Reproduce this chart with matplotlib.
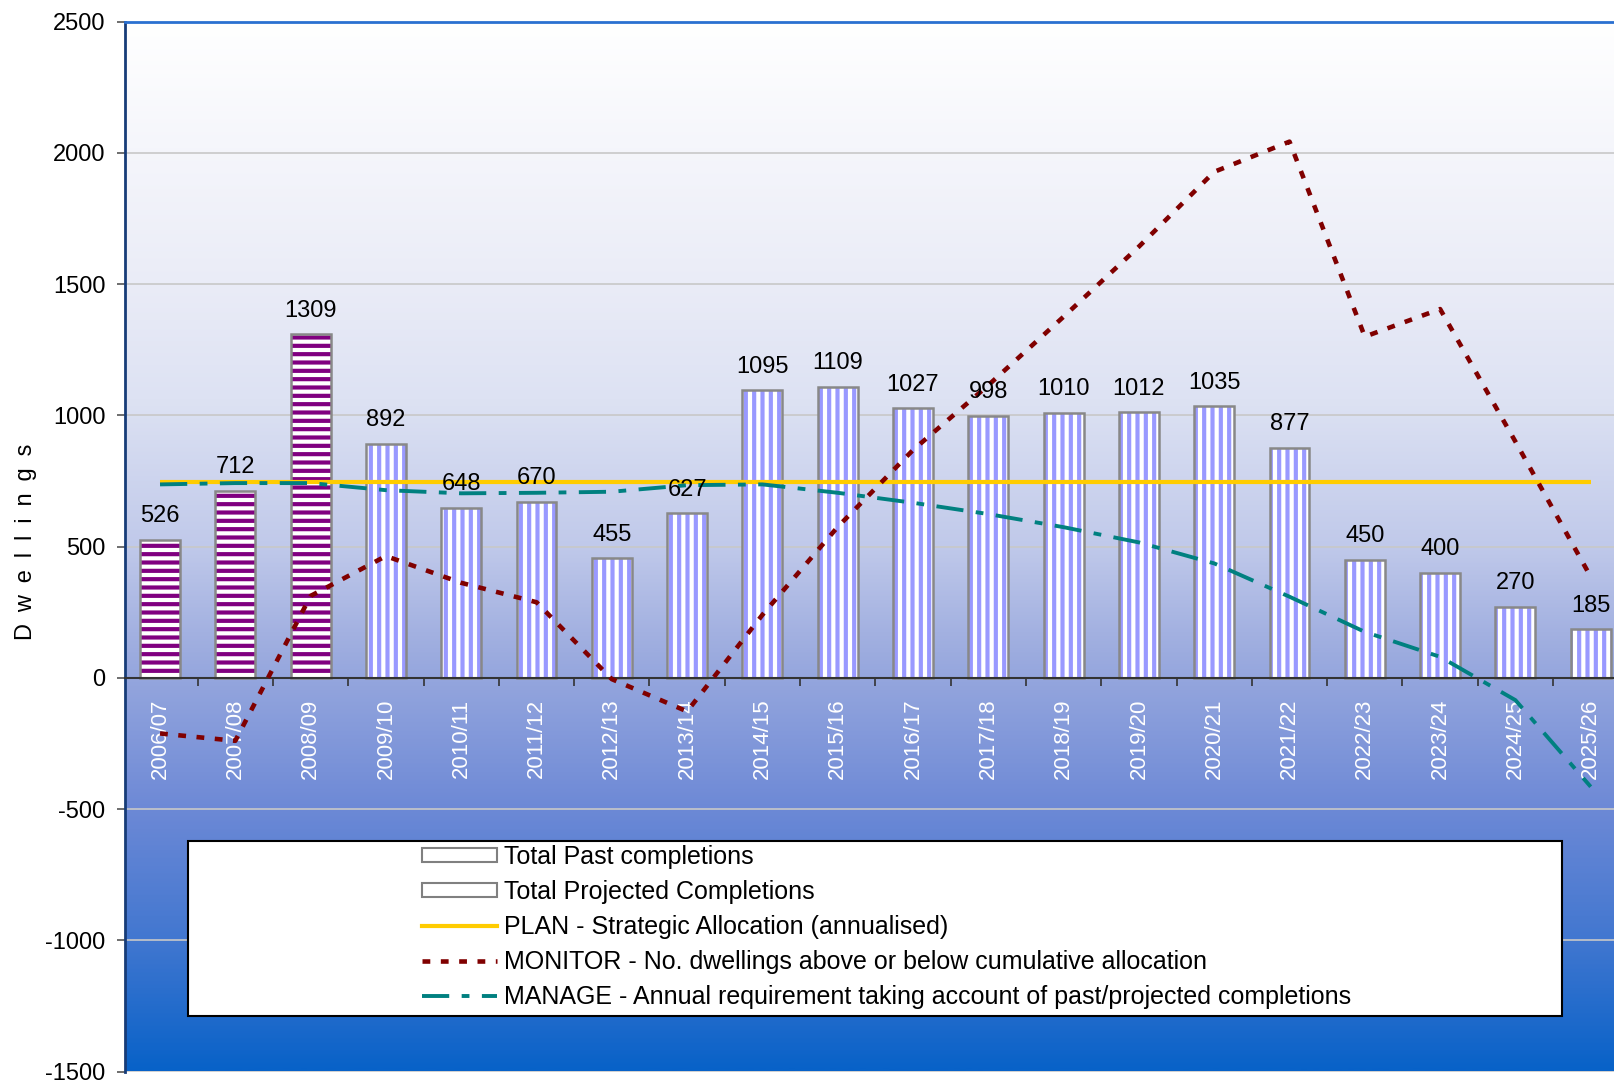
import matplotlib
matplotlib.use("Agg")
import matplotlib.pyplot as plt
import numpy as np
from matplotlib.colors import LinearSegmentedColormap
from matplotlib.patches import Patch, Rectangle
from matplotlib.lines import Line2D

# ---------------- data ----------------
years = ["2006/07", "2007/08", "2008/09", "2009/10", "2010/11", "2011/12", "2012/13",
         "2013/14", "2014/15", "2015/16", "2016/17", "2017/18", "2018/19", "2019/20",
         "2020/21", "2021/22", "2022/23", "2023/24", "2024/25", "2025/26"]
past_completions = [526, 712, 1309]
projected_completions = [892, 648, 670, 455, 627, 1095, 1109, 1027, 998, 1010,
                         1012, 1035, 877, 450, 400, 270, 185]
plan = [745] * 20
monitor = [-212, -240, 312, 464, 362, 288, -5, -128, 240, 575, 868, 1115, 1376,
           1643, 1928, 2043, 1300, 1405, 900, 385]
manage = [737, 742, 742, 715, 703, 705, 709, 734, 737, 705, 667, 624, 574, 516,
          436, 309, 175, 80, -85, -415]
yticks = [-1500, -1000, -500, 0, 500, 1000, 1500, 2000, 2500]

legend_labels = ["Total Past completions", "Total Projected Completions",
                 "PLAN - Strategic Allocation (annualised)",
                 "MONITOR - No. dwellings above or below cumulative allocation",
                 "MANAGE - Annual requirement taking account of past/projected completions"]

# ---------------- style ----------------
FONT = ["Liberation Sans", "DejaVu Sans"]
plt.rcParams["font.family"] = FONT
plt.rcParams["hatch.linewidth"] = 3.0

W, H = 1614, 1080
fig = plt.figure(figsize=(W / 100, H / 100), dpi=100)
fig.patch.set_facecolor("white")

ax_left, ax_top, ax_bottom = 125, 21.7, 1071.5
cat_w = 75.3
ax = fig.add_axes([ax_left / W, 1 - ax_bottom / H, 20 * cat_w / W, (ax_bottom - ax_top) / H])

# background gradient
stops = [(0.0, "#ffffff"), (0.25, "#eaecf7"), (0.36, "#dde2f3"), (0.5, "#c0c9ea"),
         (0.6, "#9dacdf"), (0.75, "#6d89d6"), (0.875, "#4277d0"), (1.0, "#0862c8")]
cmap = LinearSegmentedColormap.from_list("bg", stops)
grad = np.linspace(0, 1, 512).reshape(-1, 1)
ax.imshow(grad, extent=(0, 1, 0, 1), transform=ax.transAxes, aspect="auto",
          cmap=cmap, zorder=0, interpolation="bilinear")

x = np.arange(len(years))
x_past = x[:len(past_completions)]
x_proj = x[len(past_completions):]
bw = 0.53

# past bars: purple horizontal stripes
ax.bar(x_past, past_completions, width=bw, color="white", edgecolor="#800080",
       linewidth=0, hatch="--", zorder=2)
ax.bar(x_past, past_completions, width=bw, fill=False, edgecolor="#888888",
       linewidth=1.8, zorder=2.1)
# projected bars: periwinkle vertical stripes
ax.bar(x_proj, projected_completions, width=bw, color="white", edgecolor="#9999ff",
       linewidth=0, hatch="||", zorder=2)
ax.bar(x_proj, projected_completions, width=bw, fill=False, edgecolor="#888888",
       linewidth=1.8, zorder=2.1)

# lines
ax.plot(x, plan, color="#ffcc00", lw=3.0, zorder=3, solid_capstyle="butt")
ax.plot(x, monitor, color="#800000", lw=3.3, ls=(0, (1.7, 2.3)), zorder=3.2)
ax.plot(x, manage, color="#008080", lw=2.8, ls=(0, (7.0, 3.2, 2.0, 3.2)), zorder=3.1)

# bar labels
for xi, v in zip(x_past, past_completions):
    ax.annotate(str(v), (xi, v), xytext=(0, 9), textcoords="offset points",
                ha="center", va="bottom", fontsize=17, zorder=5)
for xi, v in zip(x_proj, projected_completions):
    ax.annotate(str(v), (xi, v), xytext=(0, 9), textcoords="offset points",
                ha="center", va="bottom", fontsize=17, zorder=5)

# axes
ax.set_xlim(-0.465, 19.535)
ax.set_ylim(-1500, 2500)
ax.tick_params(axis="y", direction="out", length=6, width=1.2, color="#555555",
               pad=8, labelsize=17, labelcolor="black")
ax.set_yticks(yticks)
ax.set_yticklabels([str(t) for t in yticks])
ax.yaxis.grid(True, color="#c8c8c8", lw=1.2, zorder=0.5)
ax.set_axisbelow(True)

ax.tick_params(axis="x", which="major", length=0, pad=15, labelrotation=90,
               labelcolor="white", labelsize=16)
ax.tick_params(axis="x", which="minor", direction="out", length=6, width=1.2,
               color="#333333")
ax.set_xticks(x)
ax.set_xticklabels(years)
ax.set_xticks(x[:-1] + 0.5, minor=True)

ax.spines["bottom"].set_position(("data", 0))
ax.spines["bottom"].set_color("#333333")
ax.spines["bottom"].set_linewidth(1.5)
ax.spines["bottom"].set_zorder(2.5)
ax.spines["left"].set_color("#173c78")
ax.spines["left"].set_linewidth(2)
ax.spines["top"].set_color("#2a70d0")
ax.spines["top"].set_linewidth(2)
ax.spines["right"].set_visible(False)

fig.text(26 / W, 1 - 542 / H, "D\u2002w\u2002e\u2002l\u2002l\u2002i\u2002n\u2002g\u2002s",
         rotation=90, ha="center", va="center", fontsize=17)

# legend box
lx0, ly0, lx1, ly1 = 188, 841, 1562, 1016
box = Rectangle((lx0 / W, 1 - ly1 / H), (lx1 - lx0) / W, (ly1 - ly0) / H,
                transform=fig.transFigure, facecolor="white", edgecolor="black",
                lw=1.5, zorder=6)
fig.patches.append(box)

handles = [Patch(facecolor="white", edgecolor="#808080", lw=1.5),
           Patch(facecolor="white", edgecolor="#808080", lw=1.5),
           Line2D([], [], color="#ffcc00", lw=3.0),
           Line2D([], [], color="#800000", lw=3.3, ls=(0, (1.7, 2.3))),
           Line2D([], [], color="#008080", lw=2.8, ls=(0, (7.0, 3.2, 2.0, 3.2)))]
leg = fig.legend(handles, legend_labels, loc="upper left",
                 bbox_to_anchor=(418 / W, 1 - 841 / H), frameon=False,
                 prop={"family": FONT, "size": 18}, handlelength=3.0,
                 handleheight=0.5, handletextpad=0.28, labelspacing=0.44,
                 borderpad=0.15, borderaxespad=0)
leg.set_zorder(7)

fig.savefig("out.png", dpi=100)
